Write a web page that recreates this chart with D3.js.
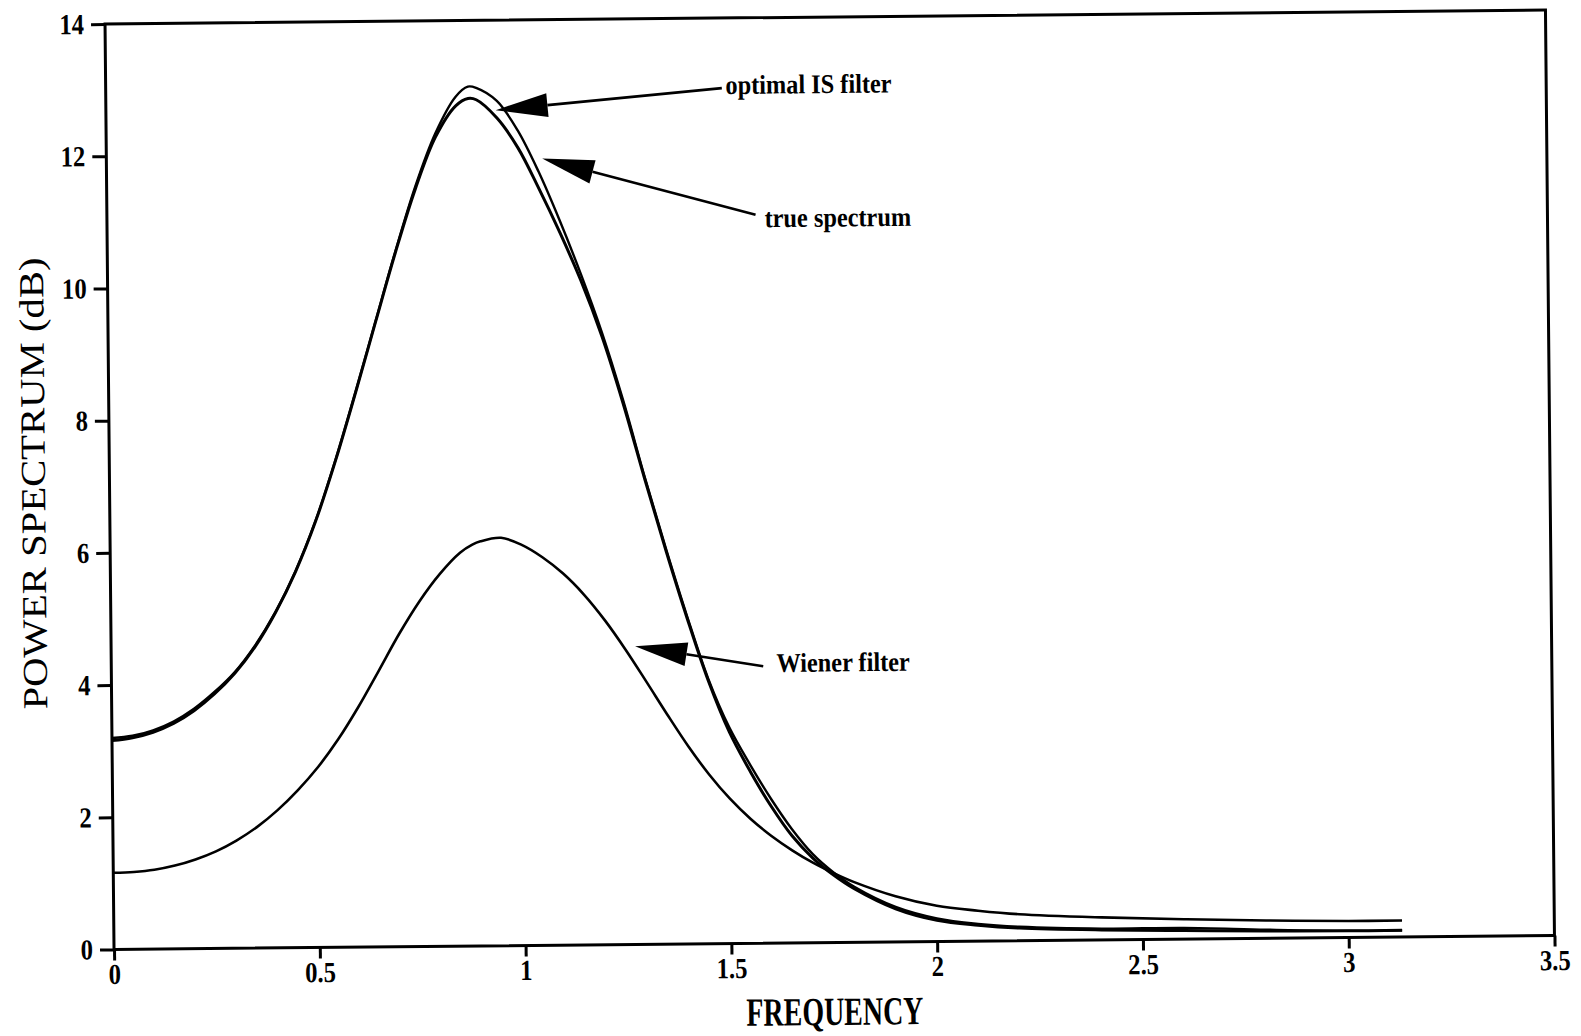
<!DOCTYPE html>
<html>
<head>
<meta charset="utf-8">
<script src="https://cdn.jsdelivr.net/npm/d3@7"></script>
<style>
  html, body { margin: 0; padding: 0; background: #fff; }
  svg { display: block; }
</style>
</head>
<body>
<script>
// Frequency grid (radians / sample) shared by the three spectra
const freq = [0, 0.05, 0.1, 0.15, 0.2, 0.25, 0.3, 0.35, 0.4, 0.45,
  0.5, 0.55, 0.6, 0.65, 0.7, 0.75, 0.8, 0.85, 0.88, 0.9,
  0.95, 1.0, 1.05, 1.1, 1.15, 1.2, 1.25, 1.3, 1.35,
  1.4, 1.45, 1.5, 1.55, 1.6, 1.65, 1.7, 1.75, 1.8,
  1.9, 2.0, 2.1, 2.2, 2.4, 2.6, 2.8, 3.0, 3.13];

// Power spectra in dB
const trueSpectrum = [3.16, 3.2, 3.28, 3.41, 3.6, 3.85, 4.16, 4.56, 5.07, 5.69,
  6.45, 7.37, 8.39, 9.45, 10.5, 11.46, 12.24, 12.71, 12.82, 12.8,
  12.52, 12.07, 11.45, 10.78, 10.05, 9.2, 8.18, 7.05, 5.96,
  4.93, 3.98, 3.2, 2.6, 2.07, 1.62, 1.28, 1.02, 0.81,
  0.5, 0.32, 0.24, 0.19, 0.15, 0.13, 0.11, 0.1, 0.1];
const optimalIS = [3.2, 3.23, 3.31, 3.44, 3.63, 3.88, 4.18, 4.58, 5.08, 5.7,
  6.46, 7.38, 8.4, 9.46, 10.52, 11.5, 12.3, 12.85, 13.0, 12.98,
  12.78, 12.33, 11.7, 10.96, 10.15, 9.26, 8.23, 7.08, 5.99,
  4.96, 4.01, 3.27, 2.7, 2.18, 1.72, 1.34, 1.06, 0.84,
  0.53, 0.35, 0.26, 0.21, 0.17, 0.17, 0.13, 0.1, 0.1];
const wiener = [1.16, 1.17, 1.2, 1.26, 1.35, 1.47, 1.63, 1.83, 2.08, 2.38,
  2.73, 3.15, 3.64, 4.18, 4.73, 5.22, 5.63, 5.95, 6.07, 6.12,
  6.17, 6.06, 5.87, 5.62, 5.3, 4.91, 4.46, 3.97, 3.47,
  2.99, 2.56, 2.19, 1.88, 1.62, 1.4, 1.21, 1.05, 0.91,
  0.69, 0.54, 0.46, 0.4, 0.34, 0.3, 0.27, 0.25, 0.25];

// Axis ticks
const xTicks = [0, 0.5, 1, 1.5, 2, 2.5, 3, 3.5];
const xTickLabels = ["0", "0.5", "1", "1.5", "2", "2.5", "3", "3.5"];
const yTicks = [0, 2, 4, 6, 8, 10, 12, 14];
const yTickLabels = ["0", "2", "4", "6", "8", "10", "12", "14"];

// Arrow annotations (data coordinates): arrow tip, tail end, label anchor
const annoLabels = ["optimal IS filter", "true spectrum", "Wiener filter"];
const annoTipX = [0.947, 1.059, 1.273];
const annoTipY = [12.64, 11.9, 4.51];
const annoTailX = [1.497, 1.576, 1.584];
const annoTailY = [12.94, 11.02, 4.19];
const annoTextX = [1.506, 1.598, 1.616];
const annoTextY = [12.85, 10.83, 4.10];

const W = 1581, H = 1036;
const svg = d3.select("body").append("svg").attr("width", W).attr("height", H);
svg.append("rect").attr("width", W).attr("height", H).attr("fill", "#fff");

// whole plot sits slightly tilted on the page
const g = svg.append("g").attr("transform", "rotate(-0.557,830,480)");

const x = d3.scaleLinear().domain([0, 3.5]).range([109.5, 1550]);
const y = d3.scaleLinear().domain([0, 14]).range([942.5, 17]);

const serif = "'Liberation Serif', 'Times New Roman', serif";

// squeeze a text element horizontally to mimic a condensed face
function condense(sel, k) {
  sel.each(function () {
    const len = this.getComputedTextLength();
    d3.select(this).attr("textLength", len * k).attr("lengthAdjust", "spacingAndGlyphs");
  });
}

// frame
g.append("rect")
  .attr("x", x(0)).attr("y", y(14))
  .attr("width", x(3.5) - x(0)).attr("height", y(0) - y(14))
  .attr("fill", "none").attr("stroke", "#000").attr("stroke-width", 3);

// y axis
const yAxis = g.append("g")
  .attr("transform", `translate(${x(0)},0)`)
  .call(d3.axisLeft(y).tickValues(yTicks).tickSize(14).tickSizeOuter(0).tickPadding(7)
    .tickFormat((d, i) => yTickLabels[i]));
yAxis.select(".domain").remove();
yAxis.selectAll(".tick line").attr("stroke", "#000").attr("stroke-width", 3);
yAxis.selectAll(".tick text")
  .attr("fill", "#000")
  .style("font-family", serif).style("font-weight", "bold").style("font-size", "29px")
  .call(condense, 0.85);

// x axis
const xAxis = g.append("g")
  .attr("transform", `translate(0,${y(0)})`)
  .call(d3.axisBottom(x).tickValues(xTicks).tickSize(11).tickSizeOuter(0).tickPadding(3)
    .tickFormat((d, i) => xTickLabels[i]));
xAxis.select(".domain").remove();
xAxis.selectAll(".tick line").attr("stroke", "#000").attr("stroke-width", 3);
xAxis.selectAll(".tick text")
  .attr("fill", "#000")
  .style("font-family", serif).style("font-weight", "bold").style("font-size", "29px")
  .call(condense, 0.85);

// spectra
const line = d3.line()
  .x(d => x(d[0]))
  .y(d => y(d[1]))
  .curve(d3.curveCatmullRom.alpha(0.5));

const series = [
  { values: trueSpectrum, width: 3 },
  { values: optimalIS, width: 2.4 },
  { values: wiener, width: 2.6 }
];
g.selectAll("path.spectrum")
  .data(series)
  .join("path")
  .attr("class", "spectrum")
  .attr("d", s => line(freq.map((f, i) => [f, s.values[i]])))
  .attr("fill", "none")
  .attr("stroke", "#000")
  .attr("stroke-width", s => s.width)
  .attr("stroke-linejoin", "round");

// annotations with filled arrowheads
const headLen = 52, headHalf = 12;
annoLabels.forEach((label, i) => {
  const tx = x(annoTipX[i]), ty = y(annoTipY[i]);
  const ex = x(annoTailX[i]), ey = y(annoTailY[i]);
  const dx = ex - tx, dy = ey - ty, len = Math.hypot(dx, dy);
  const ux = dx / len, uy = dy / len;
  const bx = tx + ux * headLen, by = ty + uy * headLen;
  const px = -uy, py = ux;
  g.append("path")
    .attr("d", `M${tx},${ty}L${bx + px * headHalf},${by + py * headHalf}L${bx - px * headHalf},${by - py * headHalf}Z`)
    .attr("fill", "#000");
  g.append("line")
    .attr("x1", bx).attr("y1", by).attr("x2", ex).attr("y2", ey)
    .attr("stroke", "#000").attr("stroke-width", 2.6);
  g.append("text")
    .attr("x", x(annoTextX[i])).attr("y", y(annoTextY[i]))
    .attr("fill", "#000")
    .style("font-family", serif).style("font-weight", "bold").style("font-size", "27px")
    .text(label)
    .call(condense, 0.9);
});

// axis titles
g.append("text")
  .attr("transform", `translate(45,${y(7) - 4}) rotate(-90)`)
  .attr("text-anchor", "middle")
  .attr("textLength", 452)
  .attr("lengthAdjust", "spacingAndGlyphs")
  .attr("fill", "#000")
  .style("font-family", serif).style("font-size", "35px")
  .text("POWER SPECTRUM (dB)");

g.append("text")
  .attr("x", x(1.75)).attr("y", 1025)
  .attr("text-anchor", "middle")
  .attr("textLength", 177)
  .attr("lengthAdjust", "spacingAndGlyphs")
  .attr("fill", "#000")
  .style("font-family", serif).style("font-weight", "bold").style("font-size", "40px")
  .text("FREQUENCY");
</script>
</body>
</html>
